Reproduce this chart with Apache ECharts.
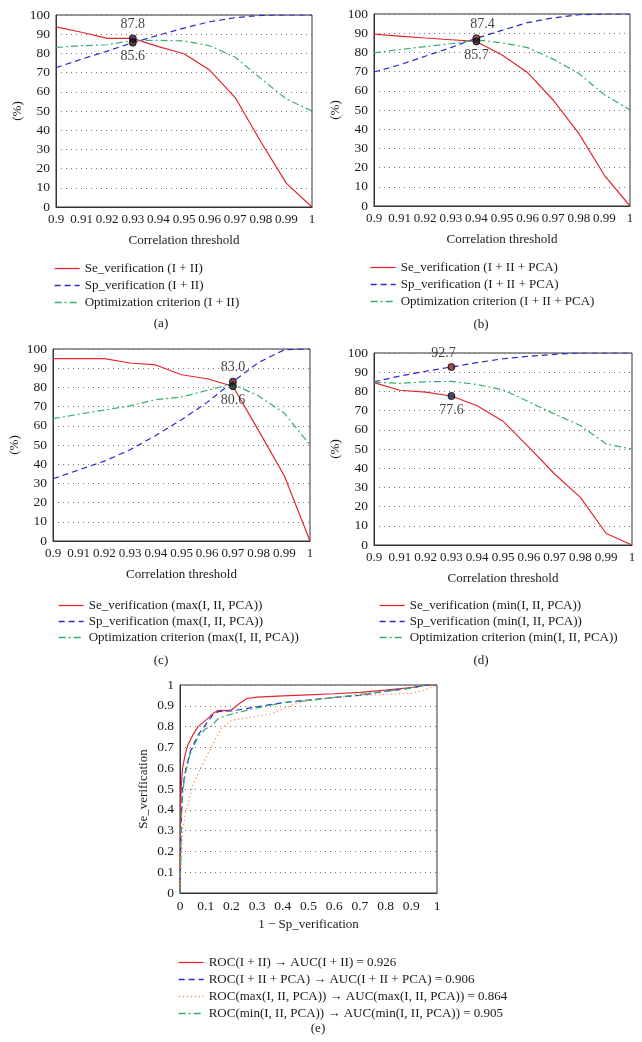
<!DOCTYPE html>
<html>
<head>
<meta charset="utf-8">
<script src="https://cdn.jsdelivr.net/npm/echarts@6/dist/echarts.min.js"></script>
<style>
html,body{margin:0;padding:0;background:#fff;}
#chart{width:642px;height:1042px;}
</style>
</head>
<body>
<div id="chart"></div>
<script>
// ---------------- DATA ----------------
const thresholds = [0.90, 0.91, 0.92, 0.93, 0.94, 0.95, 0.96, 0.97, 0.98, 0.99, 1.00];
const thresholdTicks = ['0.9','0.91','0.92','0.93','0.94','0.95','0.96','0.97','0.98','0.99','1'];

// (a) I + II
const seA  = [93.8, 91.0, 87.8, 87.8, 83.5, 79.8, 71.3, 57.0, 34.0, 12.3, 0.0];
const spA  = [72.6, 77.0, 81.2, 85.6, 89.5, 93.2, 96.5, 98.6, 99.8, 100, 100];
const optA = [83.1, 84.0, 84.5, 86.7, 86.8, 86.5, 84.0, 78.0, 67.0, 56.2, 50.0];
// (b) I + II + PCA
const seB  = [89.5, 88.5, 87.5, 86.6, 85.7, 78.6, 69.5, 55.2, 37.8, 16.0, 0.0];
const spB  = [69.8, 73.5, 78.0, 82.5, 87.4, 91.5, 95.5, 98.0, 99.6, 100, 100];
const optB = [79.8, 81.5, 83.0, 84.5, 86.5, 85.0, 82.5, 76.5, 69.0, 58.0, 50.0];
// (c) max(I, II, PCA)
const seC  = [95.0, 95.0, 95.0, 92.7, 91.7, 86.6, 84.5, 80.6, 57.5, 34.0, 0.0];
const spC  = [32.4, 37.0, 41.6, 47.5, 55.0, 63.2, 72.2, 83.0, 93.0, 99.6, 100];
const optC = [63.7, 66.0, 68.2, 70.4, 73.6, 75.0, 78.5, 81.8, 75.5, 66.6, 50.0];
// (d) min(I, II, PCA)
const seD  = [84.6, 80.6, 79.6, 77.6, 72.5, 64.5, 51.0, 37.0, 24.8, 6.0, 0.0];
const spD  = [85.0, 88.0, 90.5, 92.7, 95.0, 97.0, 98.3, 99.3, 100, 100, 100];
const optD = [84.8, 84.2, 85.0, 85.2, 83.6, 80.8, 74.6, 68.2, 62.2, 52.6, 50.0];

// optimum markers per panel: threshold, upper value, lower value
const optThreshold = [0.93, 0.94, 0.97, 0.93];
const optUpper     = [87.8, 87.4, 83.0, 92.7];
const optLower     = [85.6, 85.7, 80.6, 77.6];

// (e) ROC curves [1 - Sp, Se]
const rocI_II = [[0,0],[0.002,0.40],[0.005,0.52],[0.01,0.60],[0.02,0.665],[0.03,0.71],[0.05,0.76],[0.07,0.80],[0.10,0.83],[0.13,0.865],[0.15,0.878],[0.18,0.877],[0.20,0.88],[0.23,0.91],[0.26,0.935],[0.30,0.942],[0.40,0.948],[0.50,0.953],[0.60,0.958],[0.70,0.965],[0.80,0.975],[0.90,0.988],[0.97,1.0],[1.0,1.0]];
const rocI_II_PCA = [[0,0],[0.005,0.35],[0.01,0.50],[0.02,0.58],[0.04,0.68],[0.07,0.76],[0.10,0.81],[0.13,0.86],[0.15,0.872],[0.20,0.875],[0.25,0.885],[0.30,0.895],[0.40,0.915],[0.50,0.928],[0.60,0.94],[0.70,0.95],[0.80,0.97],[0.90,0.985],[0.96,1.0],[1.0,1.0]];
const rocMax = [[0,0],[0.01,0.30],[0.02,0.38],[0.03,0.42],[0.05,0.52],[0.08,0.60],[0.10,0.65],[0.13,0.72],[0.16,0.79],[0.20,0.83],[0.25,0.84],[0.30,0.85],[0.35,0.86],[0.40,0.885],[0.45,0.91],[0.50,0.925],[0.60,0.94],[0.70,0.95],[0.80,0.955],[0.90,0.96],[0.95,0.975],[1.0,1.0]];
const rocMin = [[0,0],[0.005,0.35],[0.01,0.48],[0.02,0.57],[0.04,0.67],[0.07,0.75],[0.10,0.79],[0.12,0.80],[0.15,0.84],[0.20,0.86],[0.30,0.89],[0.40,0.915],[0.50,0.925],[0.60,0.94],[0.70,0.955],[0.80,0.97],[0.90,0.985],[0.95,1.0],[1.0,1.0]];

const namesA = ['Se_verification (I + II)', 'Sp_verification (I + II)', 'Optimization criterion (I + II)'];
const namesB = ['Se_verification (I + II + PCA)', 'Sp_verification (I + II + PCA)', 'Optimization criterion (I + II + PCA)'];
const namesC = ['Se_verification (max(I, II, PCA))', 'Sp_verification (max(I, II, PCA))', 'Optimization criterion (max(I, II, PCA))'];
const namesD = ['Se_verification (min(I, II, PCA))', 'Sp_verification (min(I, II, PCA))', 'Optimization criterion (min(I, II, PCA))'];
const namesE = ['ROC(I + II) \u2192 AUC(I + II) = 0.926', 'ROC(I + II + PCA) \u2192 AUC(I + II + PCA) = 0.906', 'ROC(max(I, II, PCA)) \u2192 AUC(max(I, II, PCA)) = 0.864', 'ROC(min(I, II, PCA)) \u2192 AUC(min(I, II, PCA)) = 0.905'];
const captions = ['(a)', '(b)', '(c)', '(d)', '(e)'];

// ---------------- STYLE ----------------
const FONT = '"Liberation Serif", "DejaVu Serif", serif';
const RED = '#e3262c', BLUE = '#2b2bcc', GREEN = '#35b06c', ORANGE = '#f0a060';
const TXT = '#1a1a1a';

const grids = [
  {left: 56, top: 15, width: 256, height: 192},
  {left: 374, top: 14, width: 256, height: 192},
  {left: 53, top: 349, width: 257, height: 192},
  {left: 374, top: 353, width: 258, height: 192},
  {left: 180, top: 685, width: 257, height: 208}
].map(g => Object.assign({show: true, borderColor: '#333', borderWidth: 1, backgroundColor: 'transparent', containLabel: false}, g));

function xAxisThr(i) {
  return {
    type: 'value', gridIndex: i, min: 0.9, max: 1, interval: 0.01,
    name: 'Correlation threshold', nameLocation: 'middle', nameGap: 27,
    nameTextStyle: {fontFamily: FONT, fontSize: 13, color: TXT},
    axisLine: {show: true, lineStyle: {color: '#333', width: 1}},
    axisTick: {show: false},
    splitLine: {show: false},
    axisLabel: {fontFamily: FONT, fontSize: 13, color: TXT, margin: 6,
      formatter: v => thresholdTicks[Math.round((v - 0.9) * 100)]}
  };
}
function yAxisPct(i) {
  return {
    type: 'value', gridIndex: i, min: 0, max: 100, interval: 10,
    name: '(%)', nameLocation: 'middle', nameGap: 32, nameRotate: 90,
    nameTextStyle: {fontFamily: FONT, fontSize: 13, color: TXT},
    axisLine: {show: true, lineStyle: {color: '#333', width: 1}},
    axisTick: {show: false},
    splitLine: {show: true, lineStyle: {type: [1, 4], color: '#777', width: 1}},
    axisLabel: {fontFamily: FONT, fontSize: 13.5, color: TXT, margin: 6}
  };
}

function zip(xs, ys) { return xs.map((x, k) => [x, ys[k]]); }

function lineSeries(name, i, data, color, type) {
  return {
    type: 'line', name: name, xAxisIndex: i, yAxisIndex: i, data: data,
    symbol: 'none', showSymbol: false, smooth: false, z: 2,
    lineStyle: {color: color, width: 1.2, type: type},
    itemStyle: {color: color}
  };
}

const DASH = [6, 4];
const DASHDOT = [7, 3, 2, 3];
const DOT = [1.5, 2.5];

function panel(i, names, se, sp, opt, upFill, loFill, upOffset, loOffset) {
  return [
    lineSeries(names[0], i, zip(thresholds, se), RED, 'solid'),
    lineSeries(names[1], i, zip(thresholds, sp), BLUE, DASH),
    lineSeries(names[2], i, zip(thresholds, opt), GREEN, DASHDOT),
    {
      type: 'scatter', xAxisIndex: i, yAxisIndex: i, symbolSize: 7, z: 5,
      data: [
        {value: [optThreshold[i], optUpper[i]], itemStyle: {color: upFill, borderColor: '#000', borderWidth: 1},
          label: {show: true, position: 'top', distance: 3, offset: upOffset}},
        {value: [optThreshold[i], optLower[i]], itemStyle: {color: loFill, borderColor: '#000', borderWidth: 1},
          label: {show: true, position: 'bottom', distance: 3, offset: loOffset}}
      ],
      label: {fontFamily: FONT, fontSize: 14, color: '#111', textBorderWidth: 0, formatter: p => p.value[1].toFixed(1)},
      emphasis: {disabled: true},
      tooltip: {show: false}
    }
  ];
}

function legend(names, left, top, gap) {
  return {
    data: names, orient: 'vertical', left: left, top: top, padding: 0,
    itemWidth: 25, itemHeight: 12, itemGap: gap,
    itemStyle: {opacity: 0},
    lineStyle: {width: 1.3},
    textStyle: {fontFamily: FONT, fontSize: 13, color: TXT},
    selectedMode: false
  };
}

const series = [].concat(
  panel(0, namesA, seA, spA, optA, '#1c1c44', '#3a1010', [0, 0], [0, 0]),
  panel(1, namesB, seB, spB, optB, '#8a2a1a', '#1c1c30', [6, 0], [0, 0]),
  panel(2, namesC, seC, spC, optC, '#6a1414', '#10302a', [0, 0], [0, 0]),
  panel(3, namesD, seD, spD, optD, '#8a1c1c', '#1c2a55', [-8, 0], [0, 0]),
  [
    lineSeries(namesE[0], 4, rocI_II, RED, 'solid'),
    lineSeries(namesE[1], 4, rocI_II_PCA, BLUE, DASH),
    lineSeries(namesE[2], 4, rocMax, ORANGE, DOT),
    lineSeries(namesE[3], 4, rocMin, GREEN, DASHDOT)
  ]
);

const option = {
  animation: false,
  backgroundColor: '#fff',
  grid: grids,
  xAxis: [xAxisThr(0), xAxisThr(1), xAxisThr(2), xAxisThr(3), {
    type: 'value', gridIndex: 4, min: 0, max: 1, interval: 0.1,
    name: '1 \u2212 Sp_verification', nameLocation: 'middle', nameGap: 25,
    nameTextStyle: {fontFamily: FONT, fontSize: 13, color: TXT},
    axisLine: {show: true, lineStyle: {color: '#333', width: 1}},
    axisTick: {show: false}, splitLine: {show: false},
    axisLabel: {fontFamily: FONT, fontSize: 13.5, color: TXT, margin: 6, formatter: v => String(+v.toFixed(1))}
  }],
  yAxis: [yAxisPct(0), yAxisPct(1), yAxisPct(2), yAxisPct(3), {
    type: 'value', gridIndex: 4, min: 0, max: 1, interval: 0.1,
    name: 'Se_verification', nameLocation: 'middle', nameGap: 30, nameRotate: 90,
    nameTextStyle: {fontFamily: FONT, fontSize: 13, color: TXT},
    axisLine: {show: true, lineStyle: {color: '#333', width: 1}},
    axisTick: {show: false},
    splitLine: {show: true, lineStyle: {type: [1, 4], color: '#777', width: 1}},
    axisLabel: {fontFamily: FONT, fontSize: 13.5, color: TXT, margin: 6, formatter: v => String(+v.toFixed(1))}
  }],
  legend: [
    legend(namesA, 54, 262, 4),
    legend(namesB, 370, 261, 4),
    legend(namesC, 58, 599, 3),
    legend(namesD, 379, 599, 3),
    legend(namesE, 178, 956, 4)
  ],
  graphic: [
    {x: 161, y: 324}, {x: 481, y: 325}, {x: 161, y: 661}, {x: 481, y: 661}, {x: 318, y: 1029}
  ].map((p, k) => ({
    type: 'text', x: p.x, y: p.y,
    style: {text: captions[k], fontFamily: FONT, fontSize: 13, fill: TXT, textAlign: 'center', textVerticalAlign: 'middle'}
  })),
  series: series
};

const chart = echarts.init(document.getElementById('chart'), null, {renderer: 'canvas'});
chart.setOption(option);
</script>
</body>
</html>
